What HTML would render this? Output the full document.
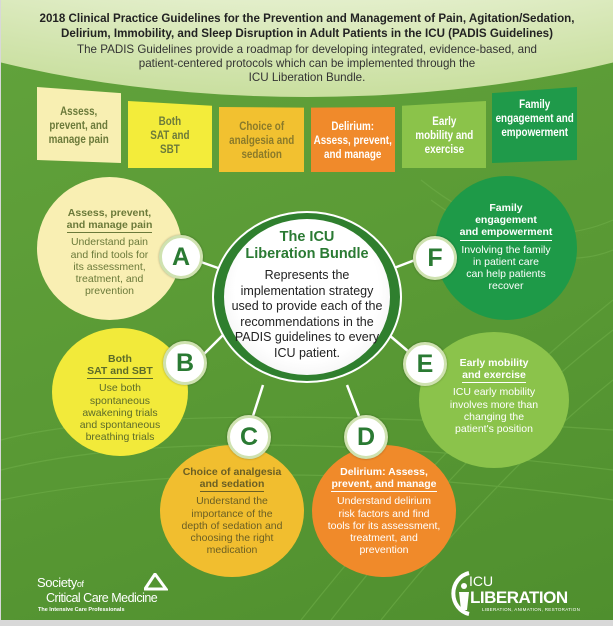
<!DOCTYPE html>
<html><head><meta charset="utf-8"><style>
*{margin:0;padding:0;box-sizing:border-box}
body{width:613px;height:626px;overflow:hidden;background:#d8d8d8;font-family:"Liberation Sans",Arial,sans-serif}
#bg{position:absolute;left:1px;top:0;width:612px;height:620px;background:linear-gradient(160deg,#62a33c 0%,#5a9a35 50%,#4f8f2e 100%);overflow:hidden}
.abs{position:absolute}
.tab{position:absolute;display:flex;align-items:center;justify-content:center;text-align:center;font-weight:bold;font-size:12px;line-height:14px}
.tab span{display:inline-block;transform:scaleX(0.82);white-space:nowrap}
.circ{position:absolute;border-radius:50%;text-align:center;font-size:10.5px;line-height:12.2px}
.circ .t{font-weight:bold;display:inline-block}
.circ .u{display:inline-block;border-bottom:1.5px solid;padding-bottom:1px;margin-bottom:3px}
.badge{position:absolute;width:44px;height:44px;border-radius:50%;background:#fff;border:3px solid #cfe2b0;color:#2a7a33;font-weight:bold;font-size:25px;line-height:38px;text-align:center;box-shadow:0 0 2px rgba(0,0,0,.3)}
</style></head><body>
<div id="bg">
<svg class="abs" style="left:0;top:0" width="612" height="620">
<defs><radialGradient id="g" cx="0.5" cy="0.3" r="0.7"><stop offset="0" stop-color="#ffffff"/><stop offset="0.6" stop-color="#eef5dd"/><stop offset="1" stop-color="#c9df9f"/></radialGradient></defs>
<g stroke="#6fae48" stroke-width="1.2" fill="none" opacity="0.6">
<path d="M300 620 Q450 430 612 300"/><path d="M330 620 Q470 440 612 330"/><path d="M380 620 Q500 470 612 380"/>
<path d="M0 470 Q200 420 612 470"/><path d="M0 500 Q250 450 612 500"/><path d="M0 440 Q150 400 612 430"/>
<path d="M420 180 Q520 260 612 220"/><path d="M430 200 Q540 280 612 250"/>
</g>
<ellipse cx="306" cy="-150" rx="600" ry="247" fill="url(#g)"/>
<g stroke="#fff" stroke-width="2.5">
<line x1="217" y1="268" x2="200" y2="262"/>
<line x1="222" y1="335" x2="202" y2="355"/>
<line x1="262" y1="385" x2="252" y2="416"/>
<line x1="346" y1="385" x2="358" y2="416"/>
<line x1="393" y1="268" x2="414" y2="260"/>
<line x1="388" y1="335" x2="408" y2="352"/>
</g>
</svg>
<div class="abs" style="left:0;top:11px;width:612px;text-align:center;font-weight:bold;font-size:11.6px;line-height:15px;color:#222">2018 Clinical Practice Guidelines for the Prevention and Management of Pain, Agitation/Sedation,<br>Delirium, Immobility, and Sleep Disruption in Adult Patients in the ICU (PADIS Guidelines)</div>
<div class="abs" style="left:0;top:43px;width:612px;text-align:center;font-size:11.6px;line-height:14px;color:#333">The PADIS Guidelines provide a roadmap for developing integrated, evidence-based, and<br>patient-centered protocols which can be implemented through the<br>ICU Liberation Bundle.</div>

<div class="tab" style="left:36px;top:87px;width:84px;height:76px;background:#f8efb2;color:#6b7a3a;clip-path:polygon(0 0,100% 8%,100% 100%,0 96%)"><span>Assess,<br>prevent, and<br>manage pain</span></div>
<div class="tab" style="left:127px;top:101px;width:84px;height:67px;background:#f3ec3a;color:#6b7a3a;clip-path:polygon(0 0,100% 7%,100% 100%,0 100%)"><span>Both<br>SAT and<br>SBT</span></div>
<div class="tab" style="left:218px;top:107px;width:85px;height:65px;background:#f2c130;color:#8a7a2a;clip-path:polygon(0 0,100% 1%,100% 100%,0 100%)"><span>Choice of<br>analgesia and<br>sedation</span></div>
<div class="tab" style="left:310px;top:107px;width:84px;height:65px;background:#f08a2b;color:#fff;clip-path:polygon(0 1%,100% 0,100% 100%,0 100%)"><span>Delirium:<br>Assess, prevent,<br>and manage</span></div>
<div class="tab" style="left:401px;top:101px;width:84px;height:67px;background:#8bc34a;color:#fff;clip-path:polygon(0 7%,100% 0,100% 100%,0 100%)"><span>Early<br>mobility and<br>exercise</span></div>
<div class="tab" style="left:491px;top:87px;width:85px;height:76px;background:#1f9a4a;color:#fff;clip-path:polygon(0 8%,100% 0,100% 96%,0 100%);align-items:flex-start;padding-top:10px"><span>Family<br>engagement and<br>empowerment</span></div>

<div class="circ" style="left:36px;top:177px;width:145px;height:143px;background:#f9efb3;color:#6b7a3a;padding-top:30px"><span class="t">Assess, prevent,<br><span class="u">and manage pain</span></span><br>Understand pain<br>and find tools for<br>its assessment,<br>treatment, and<br>prevention</div>
<div class="circ" style="left:51px;top:328px;width:136px;height:128px;background:#f2ea3a;color:#5c6b2a;padding-top:25px"><span class="t">Both<br><span class="u">SAT and SBT</span></span><br>Use both<br>spontaneous<br>awakening trials<br>and spontaneous<br>breathing trials</div>
<div class="circ" style="left:159px;top:445px;width:144px;height:132px;background:#f1be2f;color:#6b5f24;padding-top:21px"><span class="t">Choice of analgesia<br><span class="u">and sedation</span></span><br>Understand the<br>importance of the<br>depth of sedation and<br>choosing the right<br>medication</div>
<div class="circ" style="left:311px;top:445px;width:144px;height:132px;background:#f08a2a;color:#fff;padding-top:21px"><span class="t">Delirium: Assess,<br><span class="u">prevent, and manage</span></span><br>Understand delirium<br>risk factors and find<br>tools for its assessment,<br>treatment, and<br>prevention</div>
<div class="circ" style="left:434px;top:176px;width:142px;height:144px;background:#1e9a48;color:#fff;padding-top:26px"><span class="t">Family<br>engagement<br><span class="u">and empowerment</span></span><br>Involving the family<br>in patient care<br>can help patients<br>recover</div>
<div class="circ" style="left:418px;top:332px;width:150px;height:136px;background:#8bc34b;color:#fff;padding-top:25px"><span class="t">Early mobility<br><span class="u">and exercise</span></span><br>ICU early mobility<br>involves more than<br>changing the<br>patient's position</div>

<div class="abs" style="left:211px;top:211px;width:190px;height:172px;border-radius:50%;background:#2f7f2e;border:2px solid #fff"></div>
<div class="abs" style="left:223px;top:219px;width:166px;height:156px;border-radius:50%;background:radial-gradient(circle at 50% 45%,#fff 60%,#e6e6e6 100%);text-align:center;color:#222;font-size:12.5px;line-height:15.5px;padding-top:10px">
<div style="font-weight:bold;font-size:14.5px;line-height:17px;color:#2a7a33;margin-bottom:5px">The ICU<br>Liberation Bundle</div>Represents the<br>implementation strategy<br>used to provide each of the<br>recommendations in the<br>PADIS guidelines to every<br>ICU patient.</div>

<div class="badge" style="left:158px;top:235px">A</div>
<div class="badge" style="left:162px;top:341px">B</div>
<div class="badge" style="left:226px;top:415px">C</div>
<div class="badge" style="left:343px;top:415px">D</div>
<div class="badge" style="left:402px;top:342px">E</div>
<div class="badge" style="left:412px;top:236px">F</div>

<div class="abs" style="left:36px;top:576px;color:#fff;font-size:13px;line-height:14px;letter-spacing:-0.4px">Society<span style="font-size:9px">of</span></div>
<div class="abs" style="left:45px;top:591px;color:#fff;font-size:12.5px;line-height:14px;letter-spacing:-0.5px">Critical Care Medicine</div>
<div class="abs" style="left:37px;top:607px;color:#fff;font-size:5.5px;font-weight:bold">The Intensive Care Professionals</div>
<svg class="abs" style="left:143px;top:573px" width="24" height="18"><path d="M11 1 L22 16 L1 16 Z" fill="none" stroke="#fff" stroke-width="3"/></svg>

<svg class="abs" style="left:446px;top:570px" width="30" height="46"><path d="M22 3 A20 21 0 0 0 22 44" fill="none" stroke="#fff" stroke-width="4"/><circle cx="17" cy="16" r="3" fill="#fff"/><path d="M12 22 L22 22 L20 40 L14 40 Z" fill="#fff"/></svg>
<div class="abs" style="left:468px;top:574px;color:#fff;font-size:14px;line-height:15px">ICU</div>
<div class="abs" style="left:469px;top:589px;color:#fff;font-size:17px;font-weight:bold;line-height:18px;letter-spacing:-0.5px">LIBERATION</div>
<div class="abs" style="left:481px;top:607px;color:#fff;font-size:4.5px;letter-spacing:0.3px">LIBERATION, ANIMATION, RESTORATION</div>
</div>
</body></html>
